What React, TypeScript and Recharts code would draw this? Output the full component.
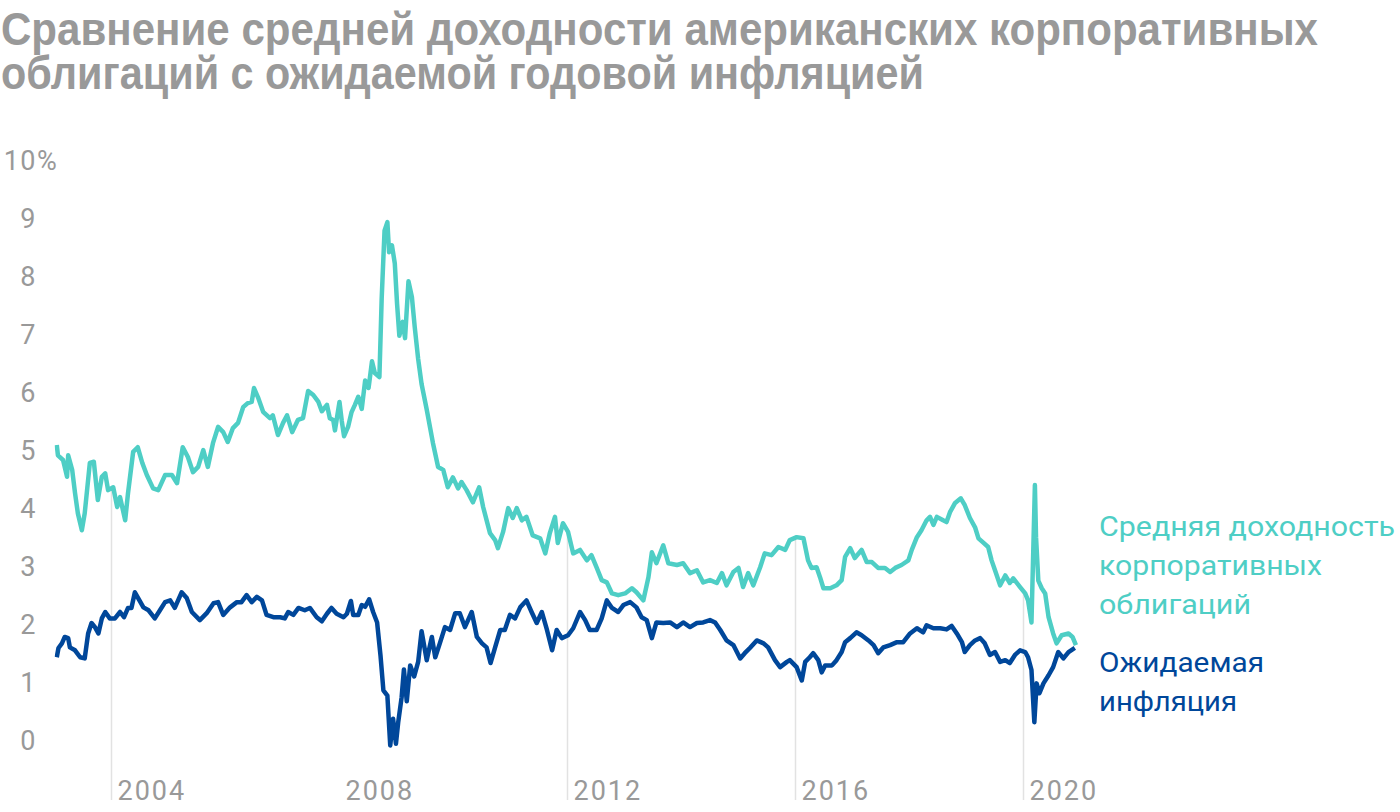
import React from 'react';
import { LineChart, Line, XAxis, YAxis, ReferenceLine } from 'recharts';

const yieldDates = [
  2003.04, 2003.06, 2003.15, 2003.22, 2003.24, 2003.31, 2003.36, 2003.41, 2003.48, 2003.53, 2003.62, 2003.69, 2003.76, 2003.83, 2003.89, 2003.94,
  2004.03, 2004.10, 2004.15, 2004.24, 2004.29, 2004.38, 2004.46, 2004.54, 2004.62, 2004.73, 2004.82, 2004.94,
  2005.06, 2005.15, 2005.25, 2005.34, 2005.43, 2005.52, 2005.61, 2005.69, 2005.78, 2005.87, 2005.96,
  2006.04, 2006.13, 2006.22, 2006.31, 2006.39, 2006.46, 2006.50, 2006.57, 2006.66, 2006.78, 2006.83, 2006.92,
  2007.01, 2007.08, 2007.17, 2007.27, 2007.36, 2007.45, 2007.54, 2007.63, 2007.69, 2007.78, 2007.83, 2007.89, 2007.92,
  2008.00, 2008.04, 2008.08, 2008.15, 2008.21, 2008.27, 2008.33, 2008.39, 2008.45, 2008.51, 2008.57, 2008.62, 2008.70, 2008.74, 2008.79, 2008.84, 2008.87, 2008.92, 2008.97,
  2009.01, 2009.05, 2009.11, 2009.15, 2009.21, 2009.27, 2009.32, 2009.38, 2009.44, 2009.53, 2009.64, 2009.73, 2009.82, 2009.90, 2009.99,
  2010.08, 2010.14, 2010.23, 2010.34, 2010.45, 2010.52, 2010.64, 2010.73, 2010.78, 2010.87, 2010.96,
  2011.04, 2011.11, 2011.20, 2011.28, 2011.39, 2011.52, 2011.61, 2011.69, 2011.78, 2011.83, 2011.92,
  2012.01, 2012.10, 2012.22, 2012.34, 2012.42, 2012.51, 2012.60, 2012.69, 2012.78, 2012.89,
  2013.01, 2013.13, 2013.21, 2013.33, 2013.42, 2013.48, 2013.56, 2013.68, 2013.77, 2013.92,
  2014.03, 2014.15, 2014.27, 2014.38, 2014.50, 2014.62, 2014.71, 2014.79, 2014.91,
  2015.00, 2015.08, 2015.17, 2015.26, 2015.38, 2015.46, 2015.58, 2015.70, 2015.82, 2015.90,
  2016.02, 2016.14, 2016.22, 2016.28, 2016.37, 2016.43, 2016.49, 2016.61, 2016.72, 2016.81, 2016.87, 2016.96,
  2017.04, 2017.16, 2017.25, 2017.34, 2017.45, 2017.57, 2017.66, 2017.75, 2017.86, 2017.98,
  2018.04, 2018.13, 2018.21, 2018.30, 2018.36, 2018.42, 2018.48, 2018.59, 2018.65, 2018.71, 2018.80, 2018.90, 2018.97,
  2019.06, 2019.15, 2019.21, 2019.29, 2019.38, 2019.44, 2019.50, 2019.59, 2019.68, 2019.76, 2019.82, 2019.94,
  2020.03, 2020.08, 2020.14, 2020.20, 2020.22, 2020.26, 2020.32, 2020.38, 2020.44, 2020.52, 2020.58, 2020.67, 2020.79, 2020.86, 2020.92,
];
const yieldValues = [
  5.09, 4.91, 4.83, 4.54, 4.91, 4.66, 4.26, 3.91, 3.62, 3.91, 4.78, 4.80, 4.14, 4.54, 4.60, 4.31,
  4.36, 4.02, 4.19, 3.79, 4.26, 4.97, 5.05, 4.78, 4.57, 4.34, 4.31, 4.57,
  4.57, 4.43, 5.05, 4.88, 4.62, 4.71, 5.00, 4.71, 5.12, 5.40, 5.31,
  5.14, 5.38, 5.47, 5.74, 5.81, 5.83, 6.07, 5.91, 5.66, 5.55, 5.60, 5.26,
  5.47, 5.60, 5.31, 5.52, 5.55, 6.02, 5.95, 5.83, 5.67, 5.78, 5.55, 5.52, 5.34,
  5.83, 5.50, 5.24, 5.40, 5.65, 5.78, 5.92, 5.71, 6.20, 6.07, 6.53, 6.33, 6.26, 7.61, 8.78, 8.93, 8.41, 8.53, 8.22,
  7.52, 6.97, 7.21, 6.93, 7.91, 7.64, 7.12, 6.57, 6.14, 5.70, 5.12, 4.71, 4.66, 4.36, 4.53,
  4.34, 4.45, 4.31, 4.10, 4.36, 4.02, 3.57, 3.45, 3.31, 3.59, 4.00,
  3.83, 4.00, 3.79, 3.85, 3.53, 3.48, 3.22, 3.57, 3.85, 3.40, 3.74,
  3.59, 3.22, 3.28, 3.10, 3.19, 2.98, 2.76, 2.72, 2.53, 2.50,
  2.53, 2.62, 2.55, 2.41, 2.81, 3.24, 3.05, 3.36, 3.05, 3.02,
  3.05, 2.88, 2.93, 2.72, 2.76, 2.71, 2.88, 2.67, 2.90,
  2.97, 2.64, 2.88, 2.67, 2.98, 3.22, 3.19, 3.33, 3.28, 3.45,
  3.50, 3.48, 3.10, 2.97, 2.98, 2.81, 2.62, 2.62, 2.67, 2.76, 3.16, 3.31,
  3.14, 3.28, 3.07, 3.07, 2.97, 2.97, 2.90, 2.97, 3.02, 3.10,
  3.28, 3.50, 3.62, 3.79, 3.85, 3.71, 3.85, 3.79, 3.76, 3.93, 4.09, 4.17, 4.05,
  3.83, 3.67, 3.48, 3.41, 3.33, 3.10, 2.93, 2.67, 2.84, 2.71, 2.79, 2.64,
  2.53, 2.41, 2.03, 4.40, 3.50, 2.75, 2.62, 2.53, 2.12, 1.84, 1.67, 1.81, 1.84, 1.78, 1.64,
];

const inflationDates = [
  2003.04, 2003.07, 2003.13, 2003.18, 2003.24, 2003.27, 2003.36, 2003.45, 2003.53, 2003.59, 2003.65, 2003.71, 2003.77, 2003.83, 2003.89, 2003.97,
  2004.06, 2004.15, 2004.22, 2004.29, 2004.35, 2004.41, 2004.49, 2004.56, 2004.65, 2004.76, 2004.85, 2004.94,
  2005.03, 2005.11, 2005.23, 2005.32, 2005.41, 2005.55, 2005.67, 2005.79, 2005.87, 2005.96,
  2006.08, 2006.20, 2006.28, 2006.37, 2006.46, 2006.55, 2006.64, 2006.72, 2006.84, 2006.96,
  2007.04, 2007.10, 2007.19, 2007.28, 2007.39, 2007.48, 2007.60, 2007.69, 2007.78, 2007.86, 2007.95,
  2008.07, 2008.13, 2008.20, 2008.24, 2008.33, 2008.39, 2008.45, 2008.52, 2008.59, 2008.66, 2008.72, 2008.77, 2008.84, 2008.89, 2008.94, 2008.99,
  2009.03, 2009.09, 2009.13, 2009.18, 2009.24, 2009.31, 2009.38, 2009.44, 2009.53, 2009.62, 2009.68, 2009.76, 2009.85, 2009.94,
  2010.03, 2010.11, 2010.20, 2010.32, 2010.41, 2010.50, 2010.58, 2010.65, 2010.73, 2010.82, 2010.90, 2010.99,
  2011.08, 2011.17, 2011.28, 2011.37, 2011.46, 2011.55, 2011.64, 2011.73, 2011.81, 2011.90,
  2012.01, 2012.10, 2012.22, 2012.31, 2012.39, 2012.51, 2012.60, 2012.69, 2012.78, 2012.89, 2012.98,
  2013.10, 2013.21, 2013.30, 2013.39, 2013.48, 2013.56, 2013.68, 2013.80, 2013.92,
  2014.03, 2014.15, 2014.27, 2014.38, 2014.50, 2014.59, 2014.68, 2014.79, 2014.91,
  2015.03, 2015.11, 2015.20, 2015.32, 2015.44, 2015.52, 2015.64, 2015.73, 2015.85, 2015.90,
  2016.02, 2016.11, 2016.17, 2016.25, 2016.31, 2016.40, 2016.46, 2016.52, 2016.64, 2016.72, 2016.81, 2016.87, 2016.96,
  2017.07, 2017.16, 2017.28, 2017.37, 2017.45, 2017.54, 2017.66, 2017.78, 2017.89,
  2018.01, 2018.13, 2018.24, 2018.30, 2018.42, 2018.54, 2018.65, 2018.74, 2018.83, 2018.92, 2018.97,
  2019.06, 2019.15, 2019.24, 2019.32, 2019.41, 2019.50, 2019.59, 2019.68, 2019.76, 2019.85, 2019.94,
  2020.03, 2020.08, 2020.14, 2020.19, 2020.23, 2020.28, 2020.35, 2020.44, 2020.52, 2020.61, 2020.70, 2020.79, 2020.90,
];
const inflationValues = [
  1.43, 1.59, 1.67, 1.78, 1.76, 1.60, 1.55, 1.43, 1.41, 1.84, 2.02, 1.95, 1.84, 2.10, 2.21, 2.10,
  2.10, 2.21, 2.12, 2.28, 2.28, 2.55, 2.41, 2.29, 2.24, 2.10, 2.24, 2.38,
  2.41, 2.28, 2.55, 2.45, 2.21, 2.07, 2.19, 2.36, 2.38, 2.16,
  2.29, 2.38, 2.38, 2.50, 2.38, 2.47, 2.41, 2.16, 2.12, 2.12,
  2.10, 2.21, 2.16, 2.28, 2.24, 2.28, 2.12, 2.05, 2.18, 2.28, 2.18,
  2.12, 2.18, 2.40, 2.16, 2.16, 2.33, 2.30, 2.43, 2.21, 2.03, 1.45, 0.86, 0.77, -0.09, 0.37, -0.06,
  0.31, 0.74, 1.22, 0.67, 1.29, 1.10, 1.35, 1.88, 1.38, 1.78, 1.43, 1.67, 1.95, 1.90,
  2.19, 2.19, 1.95, 2.21, 1.78, 1.67, 1.60, 1.33, 1.60, 1.90, 1.90, 2.16,
  2.10, 2.29, 2.41, 2.21, 2.02, 2.21, 1.90, 1.55, 1.90, 1.76,
  1.81, 1.93, 2.21, 2.07, 1.90, 1.90, 2.10, 2.41, 2.28, 2.21, 2.33,
  2.38, 2.29, 2.12, 2.07, 1.76, 2.03, 2.02, 2.03, 1.95,
  2.03, 1.95, 2.02, 2.03, 2.07, 2.03, 1.90, 1.72, 1.64,
  1.41, 1.50, 1.59, 1.72, 1.67, 1.60, 1.38, 1.26, 1.35, 1.38,
  1.26, 1.03, 1.35, 1.43, 1.50, 1.38, 1.17, 1.29, 1.29, 1.38, 1.52, 1.69, 1.76,
  1.86, 1.81, 1.72, 1.64, 1.50, 1.60, 1.64, 1.69, 1.69,
  1.84, 1.93, 1.86, 1.98, 1.93, 1.93, 1.91, 1.97, 1.84, 1.69, 1.52,
  1.64, 1.72, 1.76, 1.67, 1.47, 1.52, 1.35, 1.38, 1.33, 1.47, 1.55,
  1.52, 1.43, 1.21, 0.31, 0.98, 0.81, 0.98, 1.12, 1.26, 1.52, 1.41, 1.52, 1.59,
];

const yTicks = [0, 1, 2, 3, 4, 5, 6, 7, 8, 9, 10];
const xTicks = [2004, 2008, 2012, 2016, 2020];
const gridYears = [2004, 2012, 2016, 2020];

const titleLines = [
  'Сравнение средней доходности американских корпоративных',
  'облигаций с ожидаемой годовой инфляцией',
];
const yieldLabel = ['Средняя доходность', 'корпоративных', 'облигаций'];
const inflationLabel = ['Ожидаемая', 'инфляция'];

const TEAL = '#4ecec5';
const NAVY = '#00479a';
const GRAY = '#999999';

const yieldData = yieldDates.map((t, i) => ({ t, v: yieldValues[i] }));
const inflationData = inflationDates.map((t, i) => ({ t, v: inflationValues[i] }));

function yieldAt(t: number): number {
  for (let i = 1; i < yieldDates.length; i++) {
    if (yieldDates[i] >= t) {
      const t0 = yieldDates[i - 1];
      const t1 = yieldDates[i];
      const f = (t - t0) / (t1 - t0);
      return yieldValues[i - 1] + f * (yieldValues[i] - yieldValues[i - 1]);
    }
  }
  return yieldValues[yieldValues.length - 1];
}

const axisFont = { fontFamily: 'Roboto, sans-serif', fontSize: 27, fill: GRAY, letterSpacing: 1.5 };

const YTick = (props: any) => {
  const { y, payload } = props;
  const v = payload.value;
  return (
    <g>
      <text x={37} y={y + 9.5} textAnchor="end" style={axisFont}>
        {String(v)}
      </text>
      {v === 10 ? (
        <text x={37} y={y + 9.5} textAnchor="start" style={axisFont}>
          %
        </text>
      ) : null}
    </g>
  );
};

const XTick = (props: any) => {
  const { x, y, payload } = props;
  return (
    <text x={x + 6} y={y} textAnchor="start" style={{ ...axisFont, letterSpacing: 2 }}>
      {String(payload.value)}
    </text>
  );
};

export default function App() {
  return (
    <div style={{ position: 'absolute', left: 0, top: 0, width: 1400, height: 812, background: '#fff' }}>
      <div style={{ position: 'absolute', left: 0, top: 0 }}>
        <LineChart
          width={1400}
          height={812}
          margin={{ top: 160, right: 319.5, left: 0, bottom: 0 }}
        >
          <XAxis
            dataKey="t"
            type="number"
            domain={[2003, 2021]}
            ticks={xTicks}
            axisLine={false}
            tickLine={false}
            tickSize={0}
            tickMargin={0}
            height={12}
            tick={<XTick />}
            interval={0}
            allowDataOverflow
          />
          <YAxis
            type="number"
            domain={[-1.03, 10]}
            ticks={yTicks}
            axisLine={false}
            tickLine={false}
            width={54.5}
            tick={<YTick />}
            interval={0}
            allowDataOverflow
          />
          {gridYears.map((yr) => (
            <ReferenceLine
              key={yr}
              segment={[
                { x: yr, y: -1.03 },
                { x: yr, y: yieldAt(yr) },
              ]}
              stroke="#e2e2e2"
              strokeWidth={1.5}
              ifOverflow="visible"
            />
          ))}
          <Line
            data={yieldData}
            dataKey="v"
            type="linear"
            stroke={TEAL}
            strokeWidth={4.5}
            dot={false}
            activeDot={false}
            isAnimationActive={false}
            strokeLinejoin="round"
          />
          <Line
            data={inflationData}
            dataKey="v"
            type="linear"
            stroke={NAVY}
            strokeWidth={4.5}
            dot={false}
            activeDot={false}
            isAnimationActive={false}
            strokeLinejoin="round"
          />
        </LineChart>
      </div>
      <svg
        width={1400}
        height={812}
        style={{ position: 'absolute', left: 0, top: 0, pointerEvents: 'none' }}
      >
        <g style={{ fontFamily: "'Liberation Sans Narrow', 'Liberation Sans', Arial, sans-serif", fontWeight: 700, fontSize: 47 }} fill={GRAY}>
          <text x={1} y={45} textLength={1317} lengthAdjust="spacingAndGlyphs">{titleLines[0]}</text>
          <text x={1} y={89} textLength={923} lengthAdjust="spacingAndGlyphs">{titleLines[1]}</text>
        </g>
        <g style={{ fontFamily: 'Roboto, sans-serif', fontSize: 28 }}>
          <text x={1099} y={536} fill={TEAL} textLength={296} lengthAdjust="spacingAndGlyphs">{yieldLabel[0]}</text>
          <text x={1099} y={575} fill={TEAL} textLength={223} lengthAdjust="spacingAndGlyphs">{yieldLabel[1]}</text>
          <text x={1099} y={614} fill={TEAL} textLength={152} lengthAdjust="spacingAndGlyphs">{yieldLabel[2]}</text>
          <text x={1099} y={672} fill={NAVY} textLength={165} lengthAdjust="spacingAndGlyphs">{inflationLabel[0]}</text>
          <text x={1099} y={711} fill={NAVY} textLength={138} lengthAdjust="spacingAndGlyphs">{inflationLabel[1]}</text>
        </g>
      </svg>
    </div>
  );
}
